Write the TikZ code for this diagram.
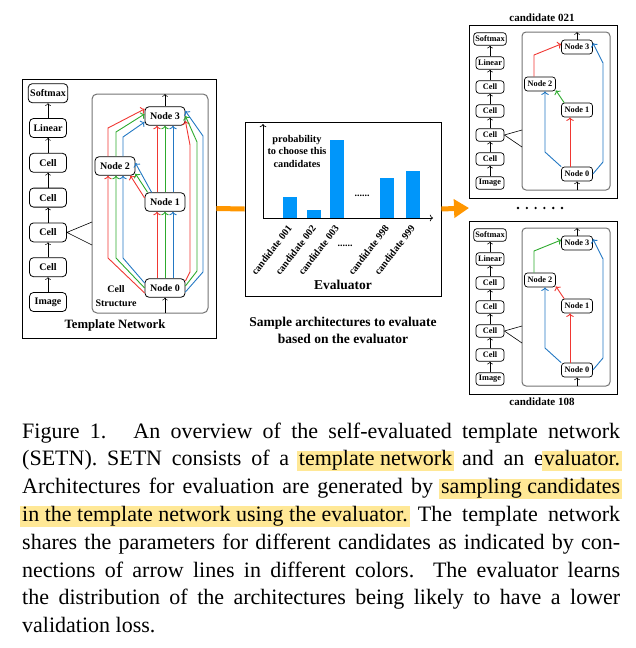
\documentclass[tikz,border=0pt]{standalone}
\usepackage{fontspec}
\setmainfont{Liberation Serif}
\usetikzlibrary{arrows,arrows.meta,positioning}

\definecolor{ared}{RGB}{240,55,50}
\definecolor{agreen}{RGB}{45,170,45}
\definecolor{ablue}{RGB}{35,120,195}
\definecolor{abar}{RGB}{0,150,250}
\definecolor{aorange}{RGB}{255,150,0}
\definecolor{ahl}{RGB}{255,232,150}
\newcommand{\hlbox}[1]{{\setlength{\fboxsep}{0pt}\hspace*{-2pt}\colorbox{ahl}{\kern2pt\rule[-5.5pt]{0pt}{19.5pt}#1\kern2pt}\hspace*{-2pt}}}

\begin{document}
\begin{tikzpicture}[x=1pt,y=-1pt]

\tikzstyle{lay} = [rectangle, rounded corners=4pt, draw=black, line width=0.8pt, minimum width=37pt, minimum height=19pt, inner sep=2pt, font=\fontsize{10}{12}\selectfont\bfseries]
\tikzstyle{nd} = [lay, minimum width=40pt, minimum height=18.5pt]
\tikzstyle{slay} = [rectangle, rounded corners=3pt, draw=black, line width=0.7pt, minimum width=28pt, minimum height=12.5pt, inner sep=1.5pt, font=\fontsize{8.3}{10}\selectfont\bfseries]
\tikzstyle{snd} = [slay, minimum width=31pt, minimum height=14pt]
\tikzstyle{boxframe} = [rectangle, draw=black, line width=0.9pt, inner sep=0pt]
\tikzstyle{cellbox} = [draw=black!55, rounded corners=5pt, line width=1pt]
\tikzstyle{up} = [->, line width=0.5pt]
\tikzstyle{cl} = [->, line width=0.9pt]
\tikzstyle{bold} = [font=\fontsize{10}{12.5}\selectfont\bfseries]

\useasboundingbox (0,0) rectangle (635,648);

% template network
\node (tbox) [boxframe, minimum width=194pt, minimum height=259pt] at (119,208.5) {};
\node (timg) [lay] at (48,302) {Image};
\node (tc1) [lay, above=15pt of timg] {Cell};
\node (tc2) [lay, above=15pt of tc1] {Cell};
\node (tc3) [lay, above=15pt of tc2] {Cell};
\node (tc4) [lay, above=15pt of tc3] {Cell};
\node (tlin) [lay, above=15pt of tc4] {Linear};
\node (tsoft) [lay, above=15pt of tlin] {Softmax};
\draw[up] (timg) -- (tc1);
\draw[up] (tc1) -- (tc2);
\draw[up] (tc2) -- (tc3);
\draw[up] (tc3) -- (tc4);
\draw[up] (tc4) -- (tlin);
\draw[up] (tlin) -- (tsoft);

\draw[cellbox] (92,94) rectangle (208,313);
\coordinate (tcsa) at (92,222);
\coordinate (tcsb) at (92,245);
\draw[line width=0.6pt] (tcsa) -- (tc2.east) -- (tcsb);

\node (tn0) [nd] at (165,288) {Node 0};
\node (tn1) [nd] at (165,202) {Node 1};
\node (tn2) [nd] at (115,166) {Node 2};
\node (tn3) [nd] at (165,116) {Node 3};
\coordinate (tout) at (165,94);
\coordinate (tin) at (165,313);
\draw[up] (tn3) -- (tout);
\draw[up] (tin) -- (tn0);

\foreach \dx/\col in {-8/ared, 0/agreen, 8/ablue}{
  \draw[cl, \col] ([xshift=\dx]tn0.north) -- ([xshift=\dx]tn1.south);
  \draw[cl, \col] ([xshift=\dx]tn1.north) -- ([xshift=\dx]tn3.south);
}
\draw[cl, ared] ([yshift=-5]tn0.west) -- (108,258) -- ([xshift=-7]tn2.south);
\draw[cl, agreen] (tn0.west) -- (116,258) -- ([xshift=1]tn2.south);
\draw[cl, ablue] ([yshift=5]tn0.west) -- (123,258) -- ([xshift=8]tn2.south);
\draw[cl, ared] ([yshift=4]tn1.west) -- ([xshift=-5]tn2.south east);
\draw[cl, agreen] ([xshift=3]tn1.north west) -- ([yshift=2]tn2.south east);
\draw[cl, ablue] ([xshift=7]tn1.north west) -- ([yshift=3]tn2.east);
\draw[cl, ared] ([xshift=-7]tn2.north) -- (108,128) -- ([yshift=7]tn3.west);
\draw[cl, agreen] ([xshift=1]tn2.north) -- (116,132) -- ([yshift=2]tn3.west);
\draw[cl, ablue] ([xshift=8]tn2.north) -- (123,137) -- ([yshift=-6]tn3.west);
\draw[cl, ared] ([yshift=7]tn0.east) -- (190,272) -- (190,145) -- ([yshift=-5]tn3.east);
\draw[cl, agreen] ([yshift=2]tn0.east) -- (197,271) -- (197,142) -- (tn3.east);
\draw[cl, ablue] ([yshift=-4]tn0.east) -- (203,272) -- (203,136) -- ([yshift=5]tn3.east);

\node (tcs) [align=center, font=\fontsize{10}{14.5}\selectfont\bfseries] at (116,296) {Cell\\Structure};
\node (ttitle) [font=\fontsize{12.7}{15}\selectfont\bfseries] at (115,325) {Template Network};

% evaluator
\node (ebox) [boxframe, minimum width=196pt, minimum height=174pt] at (343,209) {};
\foreach \bx/\by/\nm in {290/197/001, 314/210/002, 337/140/003, 387/178/998, 413/171/999}{
  \fill[abar] (\bx-7,\by) rectangle (\bx+7,218);
  \node (cand\nm) [bold, rotate=52, anchor=east] at (\bx+2,224) {candidate \nm};
}
\coordinate (eo) at (263,218);
\coordinate (ey) at (263,124);
\coordinate (ex) at (433,218);
\draw[up, line width=0.7pt] (eo) -- (ey);
\draw[up, line width=0.7pt] (eo) -- (ex);
\node (eprob) [align=center, font=\fontsize{10.3}{12.5}\selectfont\bfseries] at (297,151) {probability\\to choose this\\candidates};
\node (edots) [bold] at (362,196) {......};
\node (edots2) [bold] at (345,246) {......};
\node (etitle) [font=\fontsize{13.5}{16}\selectfont\bfseries] at (343,285) {Evaluator};
\node (esample) [align=center, font=\fontsize{13.5}{17}\selectfont\bfseries] at (343,330) {Sample architectures to evaluate\\based on the evaluator};

\draw[aorange, line width=5pt] (tbox.east) -- (ebox.west);
\coordinate (cin) at (469,208);
\draw[aorange, line width=5pt, -{Triangle[length=15pt,width=18pt]}] (ebox.east) -- (cin);

% candidates
\foreach \oy/\ca/\cb/\nm/\ly in {0/ared/agreen/021/18, 196/agreen/ared/108/206}{
\begin{scope}[shift={(0,\oy)}]
\node (cbox) [boxframe, minimum width=148pt, minimum height=173pt] at (543,111.5) {};
\node (ctitle) [font=\fontsize{11}{13}\selectfont\bfseries] at (542,\ly) {candidate \nm};
\node (cimg) [slay] at (490,183) {Image};
\node (cc1) [slay, above=10.8pt of cimg] {Cell};
\node (cc2) [slay, above=10.8pt of cc1] {Cell};
\node (cc3) [slay, above=10.8pt of cc2] {Cell};
\node (cc4) [slay, above=10.8pt of cc3] {Cell};
\node (clin) [slay, above=10.8pt of cc4] {Linear};
\node (csoft) [slay, above=10.8pt of clin] {Softmax};
\draw[up] (cimg) -- (cc1);
\draw[up] (cc1) -- (cc2);
\draw[up] (cc2) -- (cc3);
\draw[up] (cc3) -- (cc4);
\draw[up] (cc4) -- (clin);
\draw[up] (clin) -- (csoft);
\draw[cellbox, rounded corners=4pt] (522,32) rectangle (610,190);
\coordinate (ccsa) at (522,130);
\coordinate (ccsb) at (522,147);
\draw[line width=0.6pt] (ccsa) -- (cc2.east) -- (ccsb);
\node (cn0) [snd] at (577,174) {Node 0};
\node (cn1) [snd] at (577,110) {Node 1};
\node (cn2) [snd] at (540,84) {Node 2};
\node (cn3) [snd] at (577,47) {Node 3};
\coordinate (cout) at (577,32);
\coordinate (cinp) at (577,190);
\draw[up] (cn3) -- (cout);
\draw[up] (cinp) -- (cn0);
\draw[cl, \ca] ([xshift=-6]cn2.north) -- (534,55) -- ([yshift=3]cn3.west);
\draw[cl, \cb] ([xshift=3]cn1.north west) -- ([yshift=1]cn2.south east);
\draw[cl, ared] ([xshift=-7]cn0.north) -- ([xshift=-7]cn1.south);
\draw[cl, ablue] (cn0.north west) -- (545,152) -- ([xshift=5]cn2.south);
\draw[cl, ablue] (cn0.east) -- (603,162) -- (603,63) -- ([yshift=4]cn3.east);
\end{scope}
}
\foreach \i in {0,...,5}
  \fill (518+\i*8.8,208) circle (1.3pt);

% caption
\node (caption) [anchor=north west, text width=598pt, align=justify, inner sep=0pt, font=\fontsize{22}{27.8}\selectfont] at (22,422.5) {Figure 1.\hspace{0.25em} An overview of the self-evaluated template network\linebreak
(SETN). SETN consists of a \hlbox{template network} and an e\hlbox{valuator.}\linebreak
Architectures for evaluation are generated by \hlbox{sampling candidates}\linebreak
\hlbox{in the template network using the evaluator.} The template network\linebreak
shares the parameters for different candidates as indicated by con-\linebreak
nections of arrow lines in different colors.  The evaluator learns\linebreak
the distribution of the architectures being likely to have a lower\linebreak
validation loss.};

\end{tikzpicture}
\end{document}
